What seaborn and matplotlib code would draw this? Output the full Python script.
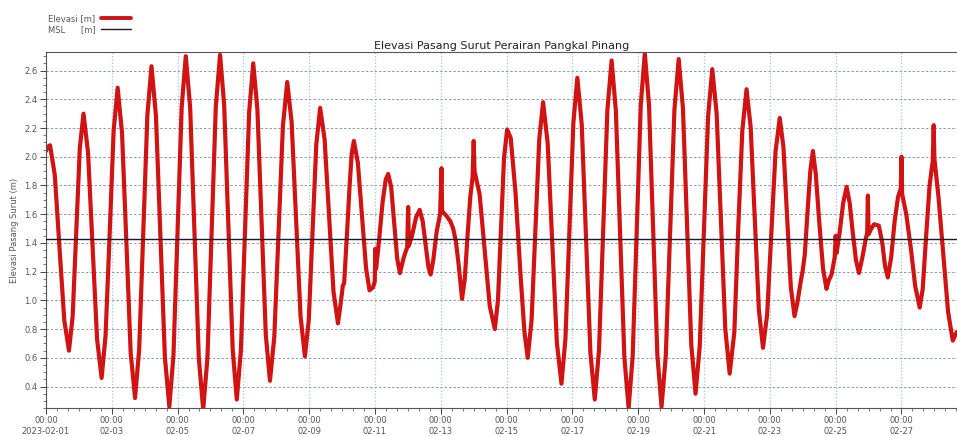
import numpy as np
import pandas as pd
import matplotlib
matplotlib.use("Agg")
import matplotlib.pyplot as plt
import matplotlib.dates as mdates
from matplotlib.ticker import MultipleLocator, FuncFormatter
from matplotlib.lines import Line2D
import seaborn as sns

# jam sejak 2023-02-01 00:00 dan elevasi (m)
jam = [0, 1.5, 3, 6.5, 9.9, 13.4, 16.8, 19.5, 22.1, 24.7, 27.4, 30.7, 34, 37.3, 40.6,
       43.5, 46.5, 49.4, 52.3, 55.5, 58.7, 61.8, 65, 68, 71, 74, 77, 80.25, 83.5, 86.75,
       90, 93, 96, 99, 102, 105.2, 108.35, 111.5, 114.7, 117.8, 120.85, 123.9, 127,
       130, 133.1, 136.2, 139.2, 142.2, 145.2, 148.2, 151.2, 154.25, 157.3, 160.35, 163.4,
       166.55, 169.7, 172.85, 176, 179.2, 182.45, 185.7, 188.9, 191.7, 194.45, 197.2, 200,
       203.25, 206.5, 209.75, 213, 215, 216.5, 217.5, 219.5, 221.5, 223, 224.6,
       227.5, 230.5, 233.5, 236, 238.5, 239.8, 240.3, 240.8, 243, 245.5, 247.8, 249.6,
       251.8, 254, 256.2, 258.2, 261, 263.5, 264.2, 264.7, 267, 270, 272.6,
       274.8, 277, 279, 280.6, 282.5, 285, 287.5, 288.5, 289, 292, 295, 297, 299, 301, 303.5,
       305.5, 307.5, 309.5, 311.2, 312, 312.6, 316.3, 320, 323.7, 327.4,
       329.7, 331.9, 334.1, 336.4, 339, 342.5, 346, 349, 351.4,
       354.2, 357, 359.8, 362.6, 365.95, 369.3, 372.65, 376, 378.9, 381.8, 384.7, 387.6,
       390.8, 393.95, 397.1, 400.3, 403.4, 406.45, 409.5, 412.6, 415.7, 418.8, 421.9, 425,
       427.95, 430.9, 433.85, 436.8, 439.85, 442.9, 445.95, 449, 452.1, 455.25, 458.4, 461.5,
       464.6, 467.65, 470.7, 473.8, 476.85, 479.9, 482.95, 486, 489.2, 492.35, 495.5, 498.7,
       502.1, 504.85, 507.9, 511, 514, 517, 520, 523, 526.05, 529.1, 532.15, 535.2,
       537.9, 540.6, 543.3, 546, 548, 550.5, 552, 553.5, 555.5, 557.5, 559.4,
       561.5, 564, 566.8, 569.3, 571, 573, 575.3, 576, 576.7, 579, 581.5, 584,
       586.2, 588.5, 590.8, 593, 595.5, 598, 599, 599.5, 600, 602, 604, 607.5, 610, 612, 614,
       616.5, 619, 621.5, 623.5, 624, 624.5, 627.5, 631, 634, 637.3,
       639.5, 642, 644.5, 646.8, 647.5, 648, 651, 654.5, 658, 661.4, 664.3]

elevasi = [2.04, 2.07, 2.08, 1.87, 1.365, 0.86, 0.65, 0.89, 1.475, 2.06, 2.30, 2.03, 1.38, 0.73, 0.46,
           0.755, 1.47, 2.185, 2.48, 2.165, 1.40, 0.635, 0.32, 0.657, 1.475, 2.293, 2.63, 2.284, 1.445, 0.606,
           0.26, 0.616, 1.48, 2.344, 2.70, 2.341, 1.47, 0.599, 0.24, 0.601, 1.475, 2.349, 2.71,
           2.36, 1.51, 0.66, 0.31, 0.652, 1.48, 2.308, 2.65, 2.327, 1.545, 0.763, 0.44,
           0.744, 1.48, 2.216, 2.52, 2.241, 1.565, 0.889, 0.61, 0.863, 1.475, 2.087, 2.34,
           2.121, 1.59, 1.059, 0.84, 0.98, 1.10, 1.12, 1.45, 1.80, 2.02, 2.11,
           1.958, 1.59, 1.222, 1.07, 1.09, 1.13, 1.36, 1.22, 1.42, 1.68, 1.84, 1.88,
           1.79, 1.54, 1.29, 1.19, 1.30, 1.37, 1.65, 1.38, 1.45, 1.58, 1.63,
           1.55, 1.38, 1.23, 1.18, 1.28, 1.48, 1.60, 1.92, 1.62, 1.59, 1.55, 1.50, 1.41, 1.25, 1.01,
           1.15, 1.45, 1.72, 1.86, 2.11, 1.90, 1.74, 1.35, 0.96, 0.80,
           1.00, 1.50, 1.99, 2.19, 2.13, 1.75, 1.20, 0.78, 0.60,
           0.86, 1.49, 2.12, 2.38, 2.094, 1.40, 0.706, 0.42, 0.731, 1.485, 2.239, 2.55,
           2.223, 1.43, 0.637, 0.31, 0.655, 1.49, 2.325, 2.67, 2.317, 1.46, 0.603, 0.25,
           0.611, 1.485, 2.359, 2.72, 2.361, 1.49, 0.619, 0.26, 0.613, 1.47, 2.327, 2.68,
           2.34, 1.515, 0.69, 0.35, 0.68, 1.48, 2.28, 2.61, 2.30, 1.55, 0.80, 0.49,
           0.779, 1.48, 2.181, 2.47, 2.207, 1.57, 0.933, 0.67, 0.904, 1.47, 2.036, 2.27,
           2.068, 1.58, 1.091, 0.89, 0.98, 1.13, 1.21, 1.32, 1.62, 1.90, 2.04,
           1.88, 1.55, 1.22, 1.08, 1.14, 1.18, 1.30, 1.45, 1.33, 1.48, 1.68, 1.79,
           1.68, 1.47, 1.28, 1.19, 1.30, 1.43, 1.47, 1.73, 1.46, 1.50, 1.53, 1.52, 1.40, 1.24, 1.16,
           1.30, 1.55, 1.72, 1.78, 2.00, 1.74, 1.60, 1.35, 1.10, 0.95,
           1.08, 1.45, 1.80, 1.97, 2.22, 1.99, 1.72, 1.32, 0.92, 0.72, 0.78]

msl = 1.43
judul = "Elevasi Pasang Surut Perairan Pangkal Pinang"
label_y = "Elevasi Pasang Surut (m)"

t0 = pd.Timestamp("2023-02-01 00:00")
df = pd.DataFrame({"waktu": t0 + pd.to_timedelta(jam, unit="h"), "elevasi": elevasi})

sns.set_style("white")
fig = plt.figure(figsize=(9.57, 4.36), dpi=100)
ax = fig.add_axes([0.048, 0.064, 0.952, 0.817])

sns.lineplot(data=df, x="waktu", y="elevasi", ax=ax, color="#d01313", lw=3.0, sort=False)
ax.axhline(msl, color="#1a1a2a", lw=1.0, zorder=3)

ax.set_xlim(t0, t0 + pd.Timedelta(hours=664.5))
ax.set_ylim(0.25, 2.73)

ax.xaxis.set_major_locator(mdates.DayLocator(bymonthday=range(1, 29, 2)))
ax.xaxis.set_minor_locator(mdates.HourLocator(byhour=[0, 8, 16]))

def fmt_x(x, pos):
    d = mdates.num2date(x)
    if d.day == 1:
        return d.strftime("%H:%M\n%Y-%m-%d")
    return d.strftime("%H:%M\n%m-%d")

ax.xaxis.set_major_formatter(FuncFormatter(fmt_x))
ax.yaxis.set_major_locator(MultipleLocator(0.2))
ax.yaxis.set_minor_locator(MultipleLocator(0.05))
ax.yaxis.set_major_formatter(FuncFormatter(lambda v, p: f"{v:.1f}"))

ax.tick_params(axis="both", which="major", labelsize=6, labelcolor="#555555",
               color="#444444", length=4, width=0.7, direction="out")
ax.tick_params(axis="both", which="minor", color="#444444", length=2, width=0.5)
ax.tick_params(axis="x", which="both", bottom=True, pad=2)
ax.tick_params(axis="y", which="both", left=True, pad=2)

ax.xaxis.grid(True, which="major", color="#9cc6de", ls=":", lw=0.9)
ax.yaxis.grid(True, which="major", color="#8d9aa6", ls=(0, (2.5, 2)), lw=0.7)
ax.set_axisbelow(True)

for s in ax.spines.values():
    s.set_color("#555555")
    s.set_linewidth(0.8)
ax.spines["right"].set_visible(False)

ax.set_xlabel("")
ax.set_ylabel(label_y, fontsize=6, color="#555555", labelpad=4)
ax.set_title(judul, fontsize=8, color="#222222", pad=2)

handles = [Line2D([], [], color="#d01313", lw=2.8),
           Line2D([], [], color="#1a1a2a", lw=1.0)]
fig.legend(handles, ["Elevasi [m]", "MSL      [m]"], loc="upper left",
           bbox_to_anchor=(0.042, 0.985), frameon=False, fontsize=6,
           handlelength=3.6, handletextpad=0.7, labelspacing=0.25,
           labelcolor="#555555", markerfirst=False)

fig.savefig("out.png", dpi=100)
